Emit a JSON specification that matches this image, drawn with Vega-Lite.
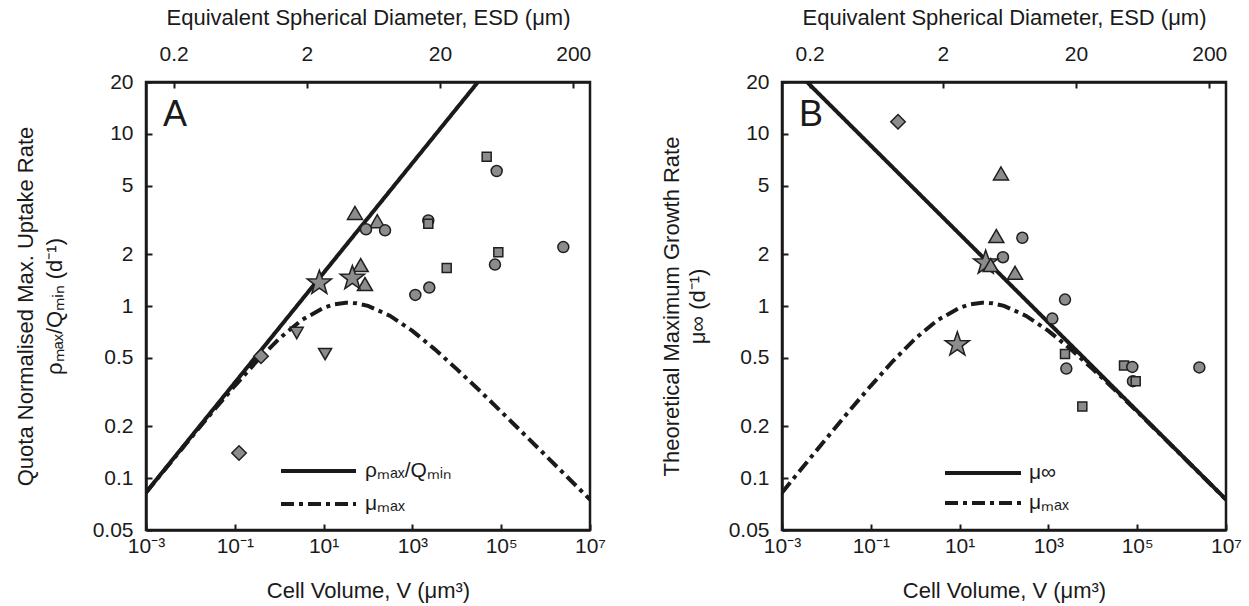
{
  "$schema": "https://vega.github.io/schema/vega-lite/v6.json",
  "background": "white",
  "padding": {"left": 12, "top": 4, "right": 0, "bottom": 0},
  "config": {
    "font": "Liberation Sans",
    "view": {"stroke": "#1a1a1a", "strokeWidth": 2.5},
    "axis": {"grid": false, "domainColor": "#1a1a1a", "domainWidth": 2.5, "tickColor": "#1a1a1a", "tickWidth": 2, "tickSize": -6, "labelFont": "Liberation Sans", "titleFont": "Liberation Sans", "labelFontSize": 21, "labelColor": "#1a1a1a", "titleFontSize": 22, "titleFontWeight": "normal", "titleColor": "#1a1a1a", "labelOverlap": false, "labelFlush": false}
  },
  "datasets": {
    "lineA": [
      {"V": 0.001, "r": 0.0826, "s": "ρₘₐₓ/Qₘᵢₙ"},
      {"V": 30000, "r": 20, "s": "ρₘₐₓ/Qₘᵢₙ"},
      {"V": 0.001, "r": 0.0824, "s": "μₘₐₓ"},
      {"V": 0.00316, "r": 0.1186, "s": "μₘₐₓ"},
      {"V": 0.01, "r": 0.17, "s": "μₘₐₓ"},
      {"V": 0.0316, "r": 0.2432, "s": "μₘₐₓ"},
      {"V": 0.1, "r": 0.344, "s": "μₘₐₓ"},
      {"V": 0.316, "r": 0.479, "s": "μₘₐₓ"},
      {"V": 1, "r": 0.646, "s": "μₘₐₓ"},
      {"V": 3.16, "r": 0.826, "s": "μₘₐₓ"},
      {"V": 10, "r": 0.977, "s": "μₘₐₓ"},
      {"V": 17.8, "r": 1.024, "s": "μₘₐₓ"},
      {"V": 31.6, "r": 1.045, "s": "μₘₐₓ"},
      {"V": 56.2, "r": 1.036, "s": "μₘₐₓ"},
      {"V": 100, "r": 1.002, "s": "μₘₐₓ"},
      {"V": 316, "r": 0.876, "s": "μₘₐₓ"},
      {"V": 1000, "r": 0.717, "s": "μₘₐₓ"},
      {"V": 3162, "r": 0.562, "s": "μₘₐₓ"},
      {"V": 10000, "r": 0.43, "s": "μₘₐₓ"},
      {"V": 31623, "r": 0.325, "s": "μₘₐₓ"},
      {"V": 100000, "r": 0.2435, "s": "μₘₐₓ"},
      {"V": 316228, "r": 0.1818, "s": "μₘₐₓ"},
      {"V": 1000000, "r": 0.1356, "s": "μₘₐₓ"},
      {"V": 3162278, "r": 0.1009, "s": "μₘₐₓ"},
      {"V": 10000000, "r": 0.0751, "s": "μₘₐₓ"}
    ],
    "lineB": [
      {"V": 0.003656, "r": 20, "s": "μ∞"},
      {"V": 10000000, "r": 0.0752, "s": "μ∞"},
      {"V": 0.001, "r": 0.0824, "s": "μₘₐₓ"},
      {"V": 0.00316, "r": 0.1186, "s": "μₘₐₓ"},
      {"V": 0.01, "r": 0.17, "s": "μₘₐₓ"},
      {"V": 0.0316, "r": 0.2432, "s": "μₘₐₓ"},
      {"V": 0.1, "r": 0.344, "s": "μₘₐₓ"},
      {"V": 0.316, "r": 0.479, "s": "μₘₐₓ"},
      {"V": 1, "r": 0.646, "s": "μₘₐₓ"},
      {"V": 3.16, "r": 0.826, "s": "μₘₐₓ"},
      {"V": 10, "r": 0.977, "s": "μₘₐₓ"},
      {"V": 17.8, "r": 1.024, "s": "μₘₐₓ"},
      {"V": 31.6, "r": 1.045, "s": "μₘₐₓ"},
      {"V": 56.2, "r": 1.036, "s": "μₘₐₓ"},
      {"V": 100, "r": 1.002, "s": "μₘₐₓ"},
      {"V": 316, "r": 0.876, "s": "μₘₐₓ"},
      {"V": 1000, "r": 0.717, "s": "μₘₐₓ"},
      {"V": 3162, "r": 0.562, "s": "μₘₐₓ"},
      {"V": 10000, "r": 0.43, "s": "μₘₐₓ"},
      {"V": 31623, "r": 0.325, "s": "μₘₐₓ"},
      {"V": 100000, "r": 0.2435, "s": "μₘₐₓ"},
      {"V": 316228, "r": 0.1818, "s": "μₘₐₓ"},
      {"V": 1000000, "r": 0.1356, "s": "μₘₐₓ"},
      {"V": 3162278, "r": 0.1009, "s": "μₘₐₓ"},
      {"V": 10000000, "r": 0.0751, "s": "μₘₐₓ"}
    ],
    "ptsA": [
      {"V": 47100, "r": 7.35, "k": "square"},
      {"V": 79100, "r": 6.08, "k": "circle"},
      {"V": 50.9, "r": 3.47, "k": "up"},
      {"V": 162, "r": 3.11, "k": "up"},
      {"V": 90.2, "r": 2.79, "k": "circle"},
      {"V": 242, "r": 2.75, "k": "circle"},
      {"V": 2280, "r": 3.14, "k": "circle"},
      {"V": 2280, "r": 3.0, "k": "square"},
      {"V": 2506000, "r": 2.2, "k": "circle"},
      {"V": 86100, "r": 2.05, "k": "square"},
      {"V": 72400, "r": 1.74, "k": "circle"},
      {"V": 5920, "r": 1.66, "k": "square"},
      {"V": 68.4, "r": 1.73, "k": "up"},
      {"V": 85.5, "r": 1.34, "k": "up"},
      {"V": 8.02, "r": 1.36, "k": "star"},
      {"V": 44.4, "r": 1.45, "k": "star"},
      {"V": 2400, "r": 1.28, "k": "circle"},
      {"V": 1164, "r": 1.16, "k": "circle"},
      {"V": 2.48, "r": 0.697, "k": "down"},
      {"V": 10.8, "r": 0.526, "k": "down"},
      {"V": 0.389, "r": 0.511, "k": "diamond"},
      {"V": 0.1245, "r": 0.14, "k": "diamond"}
    ],
    "ptsB": [
      {"V": 0.41, "r": 11.76, "k": "diamond"},
      {"V": 85.5, "r": 5.89, "k": "up"},
      {"V": 67.1, "r": 2.55, "k": "up"},
      {"V": 259, "r": 2.49, "k": "circle"},
      {"V": 94.8, "r": 1.92, "k": "circle"},
      {"V": 38.7, "r": 1.78, "k": "star"},
      {"V": 50.1, "r": 1.73, "k": "up"},
      {"V": 177, "r": 1.56, "k": "up"},
      {"V": 2366, "r": 1.09, "k": "circle"},
      {"V": 1225, "r": 0.845, "k": "circle"},
      {"V": 8.89, "r": 0.597, "k": "star"},
      {"V": 2366, "r": 0.526, "k": "square"},
      {"V": 2535, "r": 0.433, "k": "circle"},
      {"V": 5808, "r": 0.261, "k": "square"},
      {"V": 50470, "r": 0.451, "k": "square"},
      {"V": 77600, "r": 0.443, "k": "circle"},
      {"V": 80350, "r": 0.366, "k": "circle"},
      {"V": 92500, "r": 0.366, "k": "square"},
      {"V": 2510000, "r": 0.44, "k": "circle"}
    ],
    "tagA": [{"V": 0.00242, "r": 11.1, "t": "A"}],
    "tagB": [{"V": 0.00242, "r": 11.1, "t": "B"}],
    "esd": [{"d": 0.2}, {"d": 200}]
  },
  "spacing": 51,
  "resolve": {"scale": {"strokeDash": "independent"}, "legend": {"strokeDash": "independent"}},
  "hconcat": [
    {
      "width": 444,
      "height": 448,
      "resolve": {"scale": {"x": "independent"}},
      "layer": [
        {
          "layer": [
            {
              "data": {"name": "lineA"},
              "mark": {"type": "line", "strokeWidth": 4, "color": "#1a1a1a", "clip": true},
              "encoding": {
                "x": {"field": "V", "type": "quantitative", "scale": {"type": "log", "domain": [0.001, 10000000], "nice": false},
                  "axis": {"orient": "bottom", "values": [0.001, 0.1, 10, 1000, 100000, 10000000], "labelExpr": "datum.value < 0.01 ? '10⁻³' : datum.value < 1 ? '10⁻¹' : datum.value < 100 ? '10¹' : datum.value < 10000 ? '10³' : datum.value < 1000000 ? '10⁵' : '10⁷'", "title": "Cell Volume, V (μm³)", "labelPadding": 11, "titlePadding": 24}},
                "y": {"field": "r", "type": "quantitative", "scale": {"type": "log", "domain": [0.05, 20], "nice": false},
                  "axis": {"values": [0.05, 0.1, 0.2, 0.5, 1, 2, 5, 10, 20], "format": "~g", "title": ["Quota Normalised Max. Uptake Rate", "ρₘₐₓ/Qₘᵢₙ (d⁻¹)"], "titleLineHeight": 29, "labelPadding": 19, "titlePadding": 26}},
                "strokeDash": {"field": "s", "type": "nominal",
                  "scale": {"domain": ["ρₘₐₓ/Qₘᵢₙ", "μₘₐₓ"], "range": [[1, 0], [13, 5, 4, 5]]},
                  "legend": {"orient": "none", "legendX": 133, "legendY": 376, "title": null, "symbolType": "stroke", "symbolSize": 5625, "symbolStrokeWidth": 4, "symbolStrokeColor": "#1a1a1a", "labelFont": "Liberation Sans", "labelFontSize": 21, "labelColor": "#1a1a1a", "labelOffset": 7, "clipHeight": 26, "rowPadding": 7, "padding": 0}}
              }
            },
            {
              "data": {"name": "ptsA"},
              "mark": {"type": "point", "filled": true, "fill": "#8c8c8c", "stroke": "#1f1f1f", "strokeWidth": 1.5, "opacity": 1},
              "encoding": {
                "x": {"field": "V", "type": "quantitative", "scale": {"type": "log", "domain": [0.001, 10000000], "nice": false}},
                "y": {"field": "r", "type": "quantitative", "scale": {"type": "log", "domain": [0.05, 20], "nice": false}},
                "shape": {"field": "k", "type": "nominal", "legend": null,
                  "scale": {"domain": ["circle", "square", "up", "down", "diamond", "star"], "range": ["circle", "square", "triangle-up", "triangle-down", "diamond", "M0,-1L0.235,-0.324L0.951,-0.309L0.38,0.124L0.588,0.809L0,0.4L-0.588,0.809L-0.38,0.124L-0.951,-0.309L-0.235,-0.324Z"]}},
                "size": {"condition": [
                  {"test": "datum.k === 'square'", "value": 81},
                  {"test": "datum.k === 'up'", "value": 225},
                  {"test": "datum.k === 'down'", "value": 170},
                  {"test": "datum.k === 'diamond'", "value": 210},
                  {"test": "datum.k === 'star'", "value": 650}
                ], "value": 121}
              }
            },
            {
              "data": {"name": "tagA"},
              "mark": {"type": "text", "fontSize": 36, "align": "left", "baseline": "alphabetic", "color": "#1a1a1a", "font": "Liberation Sans"},
              "encoding": {
                "x": {"field": "V", "type": "quantitative", "scale": {"type": "log", "domain": [0.001, 10000000], "nice": false}},
                "y": {"field": "r", "type": "quantitative", "scale": {"type": "log", "domain": [0.05, 20], "nice": false}},
                "text": {"field": "t"}
              }
            }
          ]
        },
        {
          "data": {"name": "esd"},
          "mark": {"type": "point", "opacity": 0},
          "encoding": {
            "x": {"field": "d", "type": "quantitative", "scale": {"type": "log", "domain": [0.12407, 267.3], "nice": false},
              "axis": {"orient": "top", "values": [0.2, 2, 20, 200], "format": "~g", "title": "Equivalent Spherical Diameter, ESD (μm)", "labelPadding": 24, "titlePadding": 14}}
          }
        }
      ]
    },
    {
      "width": 444,
      "height": 448,
      "resolve": {"scale": {"x": "independent"}},
      "layer": [
        {
          "layer": [
            {
              "data": {"name": "lineB"},
              "mark": {"type": "line", "strokeWidth": 4, "color": "#1a1a1a", "clip": true},
              "encoding": {
                "x": {"field": "V", "type": "quantitative", "scale": {"type": "log", "domain": [0.001, 10000000], "nice": false},
                  "axis": {"orient": "bottom", "values": [0.001, 0.1, 10, 1000, 100000, 10000000], "labelExpr": "datum.value < 0.01 ? '10⁻³' : datum.value < 1 ? '10⁻¹' : datum.value < 100 ? '10¹' : datum.value < 10000 ? '10³' : datum.value < 1000000 ? '10⁵' : '10⁷'", "title": "Cell Volume, V (μm³)", "labelPadding": 11, "titlePadding": 24}},
                "y": {"field": "r", "type": "quantitative", "scale": {"type": "log", "domain": [0.05, 20], "nice": false},
                  "axis": {"values": [0.05, 0.1, 0.2, 0.5, 1, 2, 5, 10, 20], "format": "~g", "title": ["Theoretical Maximum Growth Rate", "μ∞ (d⁻¹)"], "titleLineHeight": 26, "labelPadding": 19, "titlePadding": 19}},
                "strokeDash": {"field": "s", "type": "nominal",
                  "scale": {"domain": ["μ∞", "μₘₐₓ"], "range": [[1, 0], [13, 5, 4, 5]]},
                  "legend": {"orient": "none", "legendX": 161, "legendY": 378, "title": null, "symbolType": "stroke", "symbolSize": 5776, "symbolStrokeWidth": 4, "symbolStrokeColor": "#1a1a1a", "labelFont": "Liberation Sans", "labelFontSize": 21, "labelColor": "#1a1a1a", "labelOffset": 6, "clipHeight": 26, "rowPadding": 4, "padding": 0}}
              }
            },
            {
              "data": {"name": "ptsB"},
              "mark": {"type": "point", "filled": true, "fill": "#8c8c8c", "stroke": "#1f1f1f", "strokeWidth": 1.5, "opacity": 1},
              "encoding": {
                "x": {"field": "V", "type": "quantitative", "scale": {"type": "log", "domain": [0.001, 10000000], "nice": false}},
                "y": {"field": "r", "type": "quantitative", "scale": {"type": "log", "domain": [0.05, 20], "nice": false}},
                "shape": {"field": "k", "type": "nominal", "legend": null,
                  "scale": {"domain": ["circle", "square", "up", "down", "diamond", "star"], "range": ["circle", "square", "triangle-up", "triangle-down", "diamond", "M0,-1L0.235,-0.324L0.951,-0.309L0.38,0.124L0.588,0.809L0,0.4L-0.588,0.809L-0.38,0.124L-0.951,-0.309L-0.235,-0.324Z"]}},
                "size": {"condition": [
                  {"test": "datum.k === 'square'", "value": 81},
                  {"test": "datum.k === 'up'", "value": 225},
                  {"test": "datum.k === 'down'", "value": 170},
                  {"test": "datum.k === 'diamond'", "value": 210},
                  {"test": "datum.k === 'star'", "value": 650}
                ], "value": 121}
              }
            },
            {
              "data": {"name": "tagB"},
              "mark": {"type": "text", "fontSize": 36, "align": "left", "baseline": "alphabetic", "color": "#1a1a1a", "font": "Liberation Sans"},
              "encoding": {
                "x": {"field": "V", "type": "quantitative", "scale": {"type": "log", "domain": [0.001, 10000000], "nice": false}},
                "y": {"field": "r", "type": "quantitative", "scale": {"type": "log", "domain": [0.05, 20], "nice": false}},
                "text": {"field": "t"}
              }
            }
          ]
        },
        {
          "data": {"name": "esd"},
          "mark": {"type": "point", "opacity": 0},
          "encoding": {
            "x": {"field": "d", "type": "quantitative", "scale": {"type": "log", "domain": [0.12407, 267.3], "nice": false},
              "axis": {"orient": "top", "values": [0.2, 2, 20, 200], "format": "~g", "title": "Equivalent Spherical Diameter, ESD (μm)", "labelPadding": 24, "titlePadding": 14}}
          }
        }
      ]
    }
  ]
}
